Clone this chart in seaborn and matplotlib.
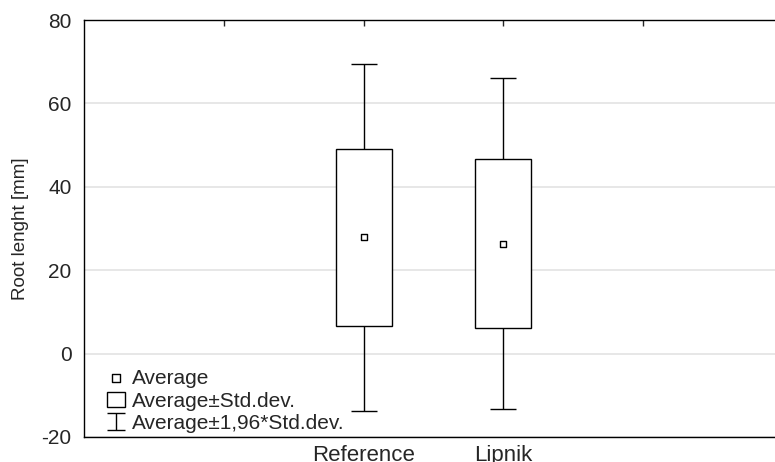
import numpy as np
import pandas as pd
import seaborn as sns
import matplotlib.pyplot as plt
from matplotlib.lines import Line2D
from matplotlib.legend_handler import HandlerErrorbar

# values (Statistica style mean / SD plot)
groups = ["Reference", "Lipnik"]
averages = [27.9, 26.4]
std_devs = [21.2, 20.3]
tick_slots = ["", "Reference", "Lipnik", ""]
y_ticks = [-20, 0, 20, 40, 60, 80]

sns.set_style("white")
plt.rcParams["font.family"] = ["Liberation Sans", "DejaVu Sans"]


class SmallCaps(HandlerErrorbar):
    # legend caps narrower than the ones in the plot
    def create_artists(self, *args, **kwargs):
        arts = super().create_artists(*args, **kwargs)
        for a in arts:
            if isinstance(a, Line2D) and a.get_marker() == "_":
                a.set_markersize(13)
        return arts


df = pd.DataFrame({"group": groups, "avg": averages, "sd": std_devs})
df["pos"] = [tick_slots.index(g) + 1 for g in df["group"]]

fig = plt.figure(figsize=(7.75, 4.62), dpi=100)
ax = fig.add_axes([84 / 775, 25 / 462, 699 / 775, 417 / 462])

# whiskers: average +- 1.96 * sd
eb = ax.errorbar(df["pos"], df["avg"], yerr=1.96 * df["sd"], fmt="none",
                 ecolor="black", elinewidth=1, capsize=9.4, capthick=1,
                 zorder=2, label="Average\u00b11,96*Std.dev.")
# box: average +- sd
bars = ax.bar(df["pos"], 2 * df["sd"], bottom=df["avg"] - df["sd"], width=0.4,
              facecolor="white", edgecolor="black", linewidth=1, zorder=3,
              label="Average\u00b1Std.dev.")
sns.scatterplot(data=df, x="pos", y="avg", marker="s", s=24, color="white",
                edgecolor="black", linewidth=1, zorder=4, ax=ax, label="Average")

ax.set_xlim(0, 5)
ax.set_ylim(-20, 80)
ax.set_xticks(range(1, len(tick_slots) + 1))
ax.set_xticklabels(tick_slots, fontsize=16)
ax.set_yticks(y_ticks)
ax.set_yticklabels([str(v) for v in y_ticks], fontsize=15)
ax.tick_params(axis="x", direction="in", length=4, width=1, top=True, pad=6)
ax.tick_params(axis="y", length=0, pad=9)
ax.set_xlabel("")
ax.set_ylabel("Root lenght [mm]", fontsize=13.5)
ax.yaxis.set_label_coords(-0.078, 0.5)

ax.set_axisbelow(True)
ax.yaxis.grid(True, color="#e3e3e3", linewidth=1.2)
ax.xaxis.grid(False)
for sp in ax.spines.values():
    sp.set_color("black")
    sp.set_linewidth(1)

h, l = ax.get_legend_handles_labels()
order = ["Average", "Average\u00b1Std.dev.", "Average\u00b11,96*Std.dev."]
hmap = dict(zip(l, h))
ax.legend([hmap[k] for k in order], order, loc="lower left",
          bbox_to_anchor=(0.0114, -0.026), frameon=False, fontsize=15,
          handlelength=0.9, handleheight=0.8, handletextpad=0.3,
          labelspacing=0.16, borderaxespad=0.3, markerscale=1.2,
          handler_map={eb: SmallCaps(yerr_size=0.4)})

fig.savefig("out.png", dpi=100)
